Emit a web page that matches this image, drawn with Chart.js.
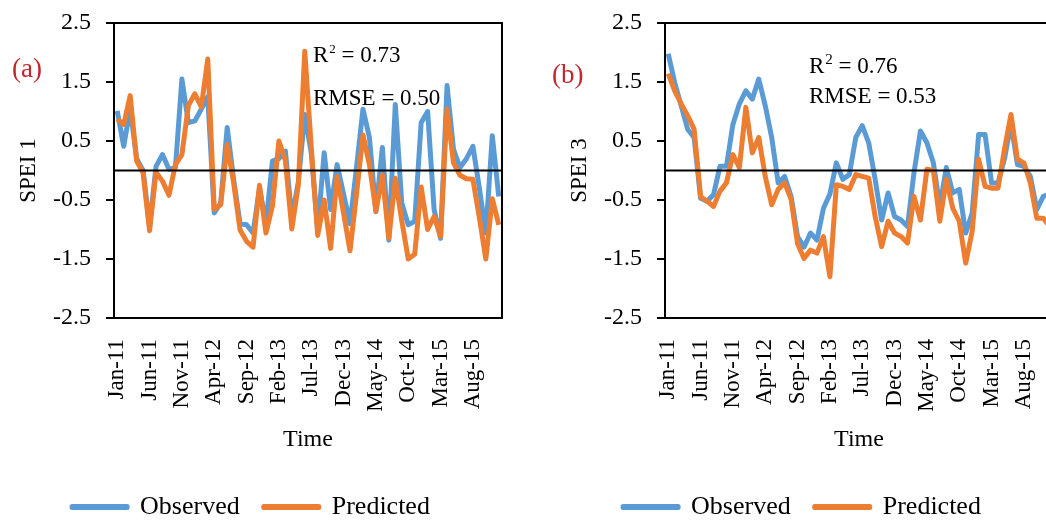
<!DOCTYPE html>
<html lang="en">
    <head>
        <meta charset="UTF-8" />
        <title>SPEI observed vs predicted</title>
        <script src="https://cdn.jsdelivr.net/npm/chart.js"></script>
        <style>
            html, body { margin: 0; padding: 0; background: #fff; }
            body { width: 1046px; height: 520px; overflow: hidden; position: relative; }
            .panel { position: absolute; top: 0; width: 520px; height: 530px; }
            #panelA { left: 0; }
            #panelB { left: 551px; }
        </style>
    </head>
    <body>
        <div class="panel" id="panelA"><canvas id="chartA"></canvas></div>
        <div class="panel" id="panelB"><canvas id="chartB"></canvas></div>

        <script>
            // monthly, Jan-11 .. Dec-15
            const monthNames = ['Jan', 'Feb', 'Mar', 'Apr', 'May', 'Jun', 'Jul', 'Aug', 'Sep', 'Oct', 'Nov', 'Dec'];
            const months = [];
            for (let y = 11; y <= 15; y++) monthNames.forEach((m) => months.push(m + '-' + y));

            const yTicks = [-2.5, -1.5, -0.5, 0.5, 1.5, 2.5];

            const observed1 = [
                1.01, 0.41, 1.05, 0.2, 0.0, -0.95, 0.07, 0.27, 0.02, 0.05,
                1.55, 0.81, 0.84, 1.04, 1.25, -0.72, -0.55, 0.73, -0.15, -0.9,
                -0.92, -1.06, -0.3, -0.9, 0.16, 0.2, 0.33, -0.8, -0.2, 0.95,
                0.3, -1.0, 0.3, -0.66, 0.1, -0.4, -0.9, 0.05, 1.04, 0.56,
                -0.7, 0.39, -1.18, 1.12, -0.55, -0.92, -0.86, 0.81, 1.0, -0.66,
                -1.15, 1.44, 0.36, 0.05, 0.2, 0.41, -0.3, -1.06, 0.59, -0.44,
            ];
            const predicted1 = [
                0.87, 0.78, 1.27, 0.16, -0.04, -1.02, -0.03, -0.18, -0.42, 0.1,
                0.27, 1.1, 1.3, 1.08, 1.89, -0.66, -0.58, 0.44, -0.21, -1.01,
                -1.2, -1.3, -0.25, -1.06, -0.6, 0.5, 0.17, -0.99, -0.25, 2.02,
                0.4, -1.1, -0.5, -1.32, -0.1, -0.72, -1.36, -0.4, 0.6, 0.1,
                -0.69, -0.08, -1.15, -0.13, -0.85, -1.5, -1.42, -0.28, -1.0, -0.78,
                -1.12, 1.04, 0.13, -0.08, -0.14, -0.15, -0.8, -1.5, -0.48, -0.92,
            ];
            const observed3 = [
                1.98, 1.49, 1.1, 0.7, 0.56, -0.47, -0.52, -0.41, 0.07, 0.07,
                0.78, 1.13, 1.35, 1.21, 1.55, 1.1, 0.56, -0.21, -0.1, -0.44,
                -1.12, -1.3, -1.06, -1.18, -0.64, -0.4, 0.13, -0.15, -0.07, 0.56,
                0.76, 0.47, -0.15, -0.84, -0.38, -0.78, -0.84, -0.95, -0.04, 0.67,
                0.47, 0.13, -0.61, 0.05, -0.38, -0.32, -1.06, -0.72, 0.61, 0.61,
                -0.21, -0.21, 0.2, 0.8, 0.1, 0.07, -0.1, -0.66, -0.44, -0.4,
            ];
            const predicted3 = [
                1.64, 1.35, 1.13, 0.93, 0.7, -0.44, -0.52, -0.61, -0.35, -0.21,
                0.27, 0.05, 1.07, 0.3, 0.56, -0.1, -0.58, -0.32, -0.21, -0.49,
                -1.24, -1.49, -1.35, -1.4, -1.12, -1.8, -0.24, -0.27, -0.32, -0.07,
                -0.1, -0.13, -0.78, -1.29, -0.86, -1.06, -1.12, -1.23, -0.44, -0.84,
                0.02, 0.0, -0.86, -0.15, -0.64, -0.86, -1.57, -1.03, 0.19, -0.27,
                -0.3, -0.3, 0.36, 0.95, 0.19, 0.13, -0.21, -0.81, -0.81, -0.95,
            ];

            const serif = "'Liberation Serif', 'Times New Roman', serif";

            // plot frame, zero line and the text notes
            const framePlugin = {
                id: 'frame',
                afterDatasetsDraw(chart, args, opts) {
                    const { ctx, chartArea: a } = chart;
                    const y0 = chart.scales.y.getPixelForValue(0);
                    ctx.save();
                    ctx.strokeStyle = '#000';
                    ctx.lineWidth = 2;
                    ctx.beginPath();
                    ctx.moveTo(a.left, y0);
                    ctx.lineTo(a.right, y0);
                    ctx.stroke();
                    ctx.strokeRect(a.left, a.top, a.right - a.left, a.bottom - a.top);

                    ctx.textBaseline = 'alphabetic';
                    ctx.textAlign = 'left';
                    ctx.fillStyle = '#c0282d';
                    ctx.font = '27px ' + serif;
                    ctx.fillText(opts.tag, opts.tagX, opts.tagY);

                    ctx.fillStyle = '#000';
                    ctx.font = '23px ' + serif;
                    let x = opts.noteX;
                    ctx.fillText('R', x, opts.r2Y);
                    x += ctx.measureText('R').width + 1;
                    ctx.font = opts.supSize + 'px ' + serif;
                    ctx.fillText('2', x, opts.r2Y - 9);
                    x += ctx.measureText('2').width;
                    ctx.font = '23px ' + serif;
                    ctx.fillText(' = ' + opts.r2, x, opts.r2Y);
                    ctx.fillText('RMSE = ' + opts.rmse, opts.noteX, opts.rmseY);
                    ctx.restore();
                },
            };

            function makeChart(id, obs, pred, yTitle, notes) {
                const ctx = document.getElementById(id).getContext('2d');
                return new Chart(ctx, {
                    type: 'line',
                    data: {
                        labels: months,
                        datasets: [
                            {
                                label: 'Observed',
                                data: obs,
                                borderColor: '#5B9BD5',
                                backgroundColor: '#5B9BD5',
                                borderWidth: 5,
                                pointRadius: 0,
                                tension: 0,
                                borderJoinStyle: 'round',
                                order: 1,
                            },
                            {
                                label: 'Predicted',
                                data: pred,
                                borderColor: '#ED7D31',
                                backgroundColor: '#ED7D31',
                                borderWidth: 5,
                                pointRadius: 0,
                                tension: 0,
                                borderJoinStyle: 'round',
                                order: 0,
                            },
                        ],
                    },
                    options: {
                        responsive: true,
                        maintainAspectRatio: false,
                        animation: false,
                        layout: { padding: { top: 23, right: 18, left: 0, bottom: 0 } },
                        scales: {
                            x: {
                                type: 'category',
                                offset: true,
                                grid: { display: false, drawTicks: false },
                                border: { display: true, color: '#000', width: 2 },
                                ticks: {
                                    autoSkip: false,
                                    minRotation: 90,
                                    maxRotation: 90,
                                    padding: 21,
                                    color: '#000',
                                    font: { family: serif, size: 23 },
                                    callback: function (v, i) {
                                        return i % 5 === 0 ? months[i] : '';
                                    },
                                },
                                title: {
                                    display: true,
                                    text: 'Time',
                                    color: '#000',
                                    font: { family: serif, size: 24 },
                                    padding: { top: 0, bottom: 16 },
                                },
                                afterFit: (s) => {
                                    s.height = 152;
                                    s.paddingLeft = 0;
                                    s.paddingRight = 0;
                                },
                            },
                            y: {
                                min: -2.5,
                                max: 2.5,
                                afterBuildTicks: (s) => {
                                    s.ticks = yTicks.map((v) => ({ value: v }));
                                },
                                grid: {
                                    drawOnChartArea: false,
                                    drawTicks: true,
                                    tickLength: 8,
                                    tickColor: '#000',
                                    lineWidth: 2,
                                },
                                border: { display: true, color: '#000', width: 2 },
                                ticks: {
                                    padding: 15,
                                    color: '#000',
                                    font: { family: serif, size: 24 },
                                    callback: (v) => Number(v).toFixed(1),
                                },
                                title: {
                                    display: true,
                                    text: yTitle,
                                    color: '#000',
                                    font: { family: serif, size: 23 },
                                    padding: { top: 15, bottom: 0 },
                                },
                                afterFit: (s) => {
                                    s.width = 114;
                                    s.paddingTop = 0;
                                    s.paddingBottom = 0;
                                },
                            },
                        },
                        plugins: {
                            tooltip: { enabled: false },
                            legend: {
                                position: 'bottom',
                                labels: {
                                    boxWidth: 55,
                                    boxHeight: 1,
                                    padding: 24,
                                    color: '#000',
                                    font: { family: serif, size: 26 },
                                    sort: (a, b) => a.datasetIndex - b.datasetIndex,
                                },
                            },
                            frame: notes,
                        },
                    },
                    plugins: [framePlugin],
                });
            }

            makeChart('chartA', observed1, predicted1, 'SPEI 1', {
                tag: '(a)', tagX: 12, tagY: 77,
                noteX: 313, r2Y: 62, rmseY: 105, supSize: 13,
                r2: '0.73', rmse: '0.50',
            });
            makeChart('chartB', observed3, predicted3, 'SPEI 3', {
                tag: '(b)', tagX: 1, tagY: 83,
                noteX: 258, r2Y: 73, rmseY: 103, supSize: 15,
                r2: '0.76', rmse: '0.53',
            });
        </script>
    </body>
</html>
